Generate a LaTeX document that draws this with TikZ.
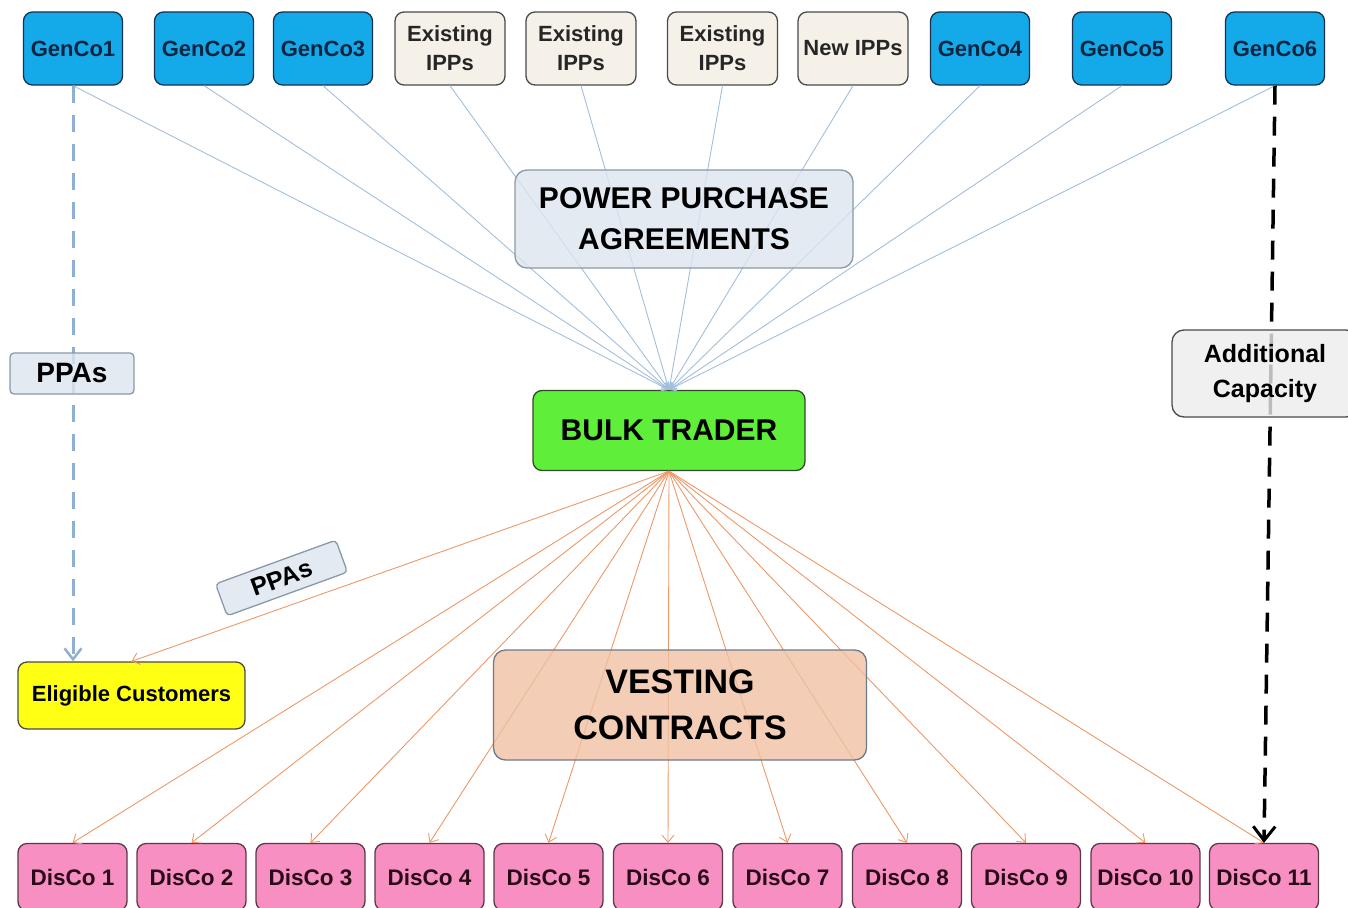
\documentclass[tikz,border=0pt]{standalone}
\usepackage{fontspec}
\setmainfont{Liberation Sans}
\usetikzlibrary{arrows.meta}
\definecolor{gencofill}{HTML}{14A9E8}
\definecolor{gencoborder}{HTML}{17324F}
\definecolor{gencotext}{HTML}{0B2440}
\definecolor{ippfill}{HTML}{F6F1E8}
\definecolor{ippborder}{HTML}{4A4A4A}
\definecolor{disfill}{HTML}{F78FC3}
\definecolor{disborder}{HTML}{5A3848}
\definecolor{distext}{HTML}{2A0A18}
\definecolor{btfill}{HTML}{5FEF3A}
\definecolor{btborder}{HTML}{2F4A2A}
\definecolor{ecfill}{HTML}{FFFF14}
\definecolor{lblfill}{HTML}{DCE5EF}
\definecolor{lblborder}{HTML}{8A98A8}
\definecolor{vcfill}{HTML}{F0C0A2}
\definecolor{acfill}{HTML}{ECECEC}
\definecolor{ppaline}{HTML}{A3BEDB}
\definecolor{vcline}{HTML}{EC9868}
\definecolor{dashblue}{HTML}{8FB0D2}
\begin{document}
\begin{tikzpicture}[x=1pt,y=-1pt]
\useasboundingbox (0,0) rectangle (1348,907);
\clip (0,0) rectangle (1348,907);
\tikzset{
  box/.style={draw, rounded corners=9pt, line width=1.3pt, align=center, inner sep=0pt},
  gen/.style={box, fill=gencofill, draw=gencoborder, text=gencotext,
    minimum width=99pt, minimum height=73pt, font=\bfseries\fontsize{22}{28}\selectfont},
  ipp/.style={box, fill=ippfill, draw=ippborder, text=black!85,
    minimum width=110pt, minimum height=73pt, font=\bfseries\fontsize{22}{29}\selectfont},
  dis/.style={box, fill=disfill, draw=disborder, text=distext,
    minimum width=109pt, minimum height=67pt, font=\bfseries\fontsize{22.5}{28}\selectfont},
  lbl/.style={box, fill=lblfill, draw=lblborder, fill opacity=0.8, text opacity=1, text=black},
  ppaarrow/.style={draw=ppaline, line width=0.9pt, -{Straight Barb[length=6pt,width=9pt]}},
  vcarrow/.style={draw=vcline, line width=0.9pt, -{Straight Barb[length=7pt,width=12pt]}},
}
% top row
\node[gen] (g1) at (73,48.5) {GenCo1};
\node[gen] (g2) at (204,48.5) {GenCo2};
\node[gen] (g3) at (323,48.5) {GenCo3};
\node[ipp] (e1) at (450,48.5) {Existing\\IPPs};
\node[ipp] (e2) at (581,48.5) {Existing\\IPPs};
\node[ipp] (e3) at (722.5,48.5) {Existing\\IPPs};
\node[ipp] (n1) at (853,48.5) {New IPPs};
\node[gen] (g4) at (980,48.5) {GenCo4};
\node[gen] (g5) at (1122,48.5) {GenCo5};
\node[gen] (g6) at (1275,48.5) {GenCo6};
% bulk trader
\node[box, fill=btfill, draw=btborder, minimum width=272pt, minimum height=80pt,
  font=\bfseries\fontsize{30}{36}\selectfont] (bt) at (669,430.5) {BULK TRADER};
% eligible customers
\node[box, fill=ecfill, draw=ippborder, minimum width=227pt, minimum height=67pt,
  font=\bfseries\fontsize{22}{26}\selectfont] (ec) at (131.5,695.5) {Eligible Customers};
% discos
\foreach \i/\x in {1/72.5,2/191.5,3/310.5,4/429.5,5/548.5,6/668,7/787.5,8/907,9/1026,10/1145.5,11/1264}{
  \node[dis] (d\i) at (\x,877) {DisCo \i};
}
% PPA lines
\foreach \n in {g1,g2,g3,e1,e2,e3,n1,g4,g5,g6}{
  \draw[ppaarrow] (\n.south) -- (bt.north);
}
% vesting lines
\draw[vcarrow] (bt.south) -- (ec.north);
\foreach \i in {1,...,11}{
  \draw[vcarrow] (bt.south) -- (d\i.north);
}
% dashed connectors
\draw[draw=dashblue, line width=3pt, dash pattern=on 17pt off 12pt,
  -{Straight Barb[length=11pt,width=17pt,line width=2.5pt]}] (g1.south) -- (g1.south |- ec.north);
\draw[draw=black, line width=3.5pt, dash pattern=on 19pt off 12pt,
  -{Straight Barb[length=14pt,width=22pt,line width=3pt]}] (g6.south) -- (d11.north);
% labels
\node[lbl, minimum width=338pt, minimum height=98pt, rounded corners=12pt,
  font=\bfseries\fontsize{30}{41}\selectfont] (ppa) at (684,219) {POWER PURCHASE\\AGREEMENTS};
\node[lbl, fill=vcfill, draw=lblborder!80!black, minimum width=373pt, minimum height=110pt, rounded corners=12pt,
  font=\bfseries\fontsize{34}{46}\selectfont] (vc) at (680,705) {VESTING\\CONTRACTS};
\node[lbl, minimum width=124pt, minimum height=41pt, rounded corners=4pt,
  font=\bfseries\fontsize{28}{32}\selectfont] (ppas1) at (72,373.5) {PPAs};
\node[lbl, rotate=20, minimum width=128pt, minimum height=34pt, rounded corners=4pt,
  font=\bfseries\fontsize{25}{30}\selectfont] (ppas2) at (281.5,578) {PPAs};
\node[lbl, fill=acfill, draw=ippborder, minimum width=186pt, minimum height=87pt, rounded corners=12pt,
  font=\bfseries\fontsize{25}{35}\selectfont] (ac) at (1265,373.5) {Additional\\Capacity};
\end{tikzpicture}
\end{document}
